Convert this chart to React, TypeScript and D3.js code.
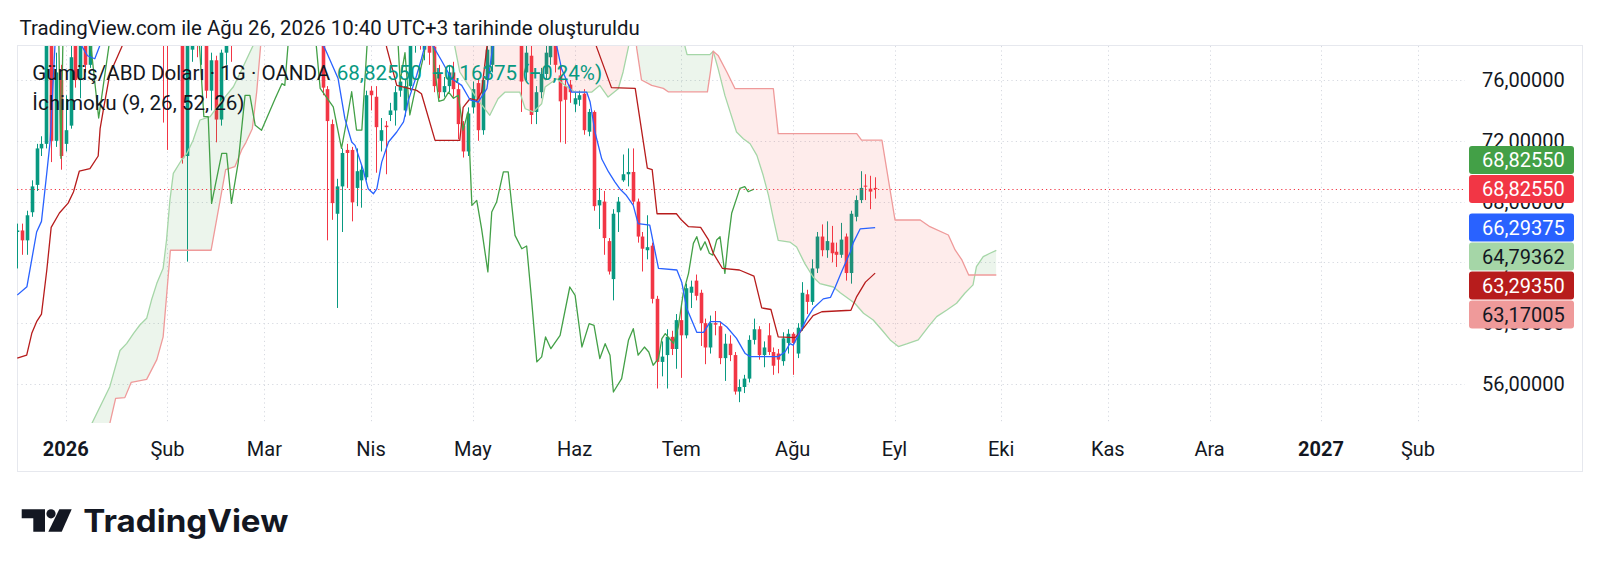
import React, { useRef, useEffect } from "react";
import * as d3 from "d3";

// bar 0 = 2 Jan 2026 (first session of the year), negative bars = late Dec 2025
// [bar, open, high, low, close]
const candles: number[][] = [
    [-10, 66.0, 66.55, 63.6, 66.1], [-9, 66.1, 66.55, 64.5, 65.45], [-8, 65.45, 67.4, 64.5, 67.1],
    [-7, 67.3, 69.4, 67.0, 69.0], [-6, 69.1, 71.8, 68.7, 71.5], [-5, 71.5, 72.3, 71.0, 71.8],
    [-4, 71.8, 80.5, 71.5, 79.0], [-3, 79.0, 80.0, 70.6, 72.0], [-2, 72.0, 77.8, 71.6, 76.5],
    [-1, 76.0, 77.0, 70.1, 71.0], [0, 71.8, 75.0, 71.3, 72.7], [1, 73.0, 79.0, 72.8, 77.5],
    [2, 79.5, 80.5, 75.5, 76.0], [3, 76.0, 80.5, 74.8, 79.8], [4, 79.8, 80.5, 76.5, 77.0],
    [5, 77.0, 81.5, 76.8, 80.5],
    [20, 80.5, 82.0, 73.2, 79.5], [21, 80.0, 81.0, 71.4, 79.0],
    [24, 80.0, 81.0, 70.5, 70.85], [25, 71.0, 81.0, 64.05, 79.5], [26, 78.0, 81.0, 77.2, 80.0],
    [27, 80.0, 81.0, 77.5, 79.0], [28, 79.0, 80.5, 77.0, 79.5], [29, 79.5, 80.0, 74.8, 75.3],
    [30, 75.3, 77.8, 74.0, 77.3], [31, 77.3, 77.6, 71.9, 73.4], [32, 73.4, 78.0, 73.0, 77.8],
    [33, 77.8, 80.0, 77.0, 79.5], [34, 79.5, 80.5, 77.2, 78.8],
    [53, 79.5, 80.5, 75.0, 75.5], [54, 75.4, 75.6, 65.45, 73.3], [55, 73.1, 73.4, 66.8, 67.9],
    [56, 67.2, 69.5, 61.0, 69.0], [57, 69.0, 71.5, 66.0, 71.2], [58, 71.4, 71.8, 68.9, 71.2],
    [59, 71.4, 71.6, 66.7, 67.95], [60, 68.9, 71.5, 67.7, 70.0], [61, 69.4, 70.4, 67.6, 70.1],
    [62, 69.6, 75.3, 69.4, 75.0], [63, 75.3, 75.6, 74.0, 75.0], [64, 74.9, 75.6, 69.9, 72.9],
    [65, 72.0, 73.5, 71.3, 72.7], [66, 73.0, 73.3, 69.8, 72.9], [67, 73.7, 74.5, 73.3, 74.0],
    [68, 74.0, 75.6, 73.0, 75.2], [69, 75.3, 76.3, 74.9, 75.9], [70, 74.0, 76.0, 73.6, 75.6],
    [71, 75.6, 79.0, 75.3, 78.5], [72, 78.3, 80.5, 77.8, 79.5], [73, 79.5, 80.5, 78.0, 78.8],
    [74, 78.0, 80.0, 77.3, 79.5], [75, 79.3, 80.0, 77.0, 77.8], [76, 78.2, 78.6, 75.2, 75.6],
    [77, 76.4, 77.0, 74.8, 75.2], [78, 75.2, 76.2, 74.9, 75.6], [79, 75.6, 77.0, 75.2, 76.5],
    [80, 76.5, 77.2, 74.9, 75.4], [81, 75.4, 75.8, 72.1, 73.1], [82, 73.0, 73.3, 70.9, 71.3],
    [83, 71.3, 74.2, 71.0, 73.8], [84, 74.2, 75.9, 73.8, 75.4], [85, 75.8, 76.1, 72.0, 72.7],
    [86, 72.7, 76.4, 72.4, 76.0], [87, 76.0, 78.4, 75.6, 78.0], [88, 77.0, 80.0, 76.5, 79.5],
    [94, 80.0, 81.0, 73.9, 75.9], [95, 76.5, 79.5, 76.0, 77.8], [96, 77.6, 78.5, 73.1, 73.7],
    [97, 73.9, 75.6, 73.1, 75.2], [98, 75.2, 76.8, 74.8, 76.4], [99, 76.4, 78.5, 76.0, 77.8],
    [100, 77.5, 80.0, 77.0, 79.0], [101, 79.0, 80.0, 76.5, 77.0], [102, 76.3, 77.0, 71.9, 74.6],
    [103, 75.6, 76.0, 71.8, 74.7], [104, 75.7, 76.0, 74.5, 75.2], [105, 74.4, 75.2, 73.9, 74.8],
    [106, 74.7, 75.3, 74.3, 75.0], [107, 75.1, 75.4, 72.4, 72.7], [108, 72.6, 74.1, 72.3, 73.9],
    [109, 73.9, 74.0, 67.4, 67.7], [110, 67.75, 68.9, 66.2, 68.1], [111, 68.0, 68.7, 64.5, 65.6],
    [112, 65.4, 65.6, 63.2, 63.4], [113, 62.9, 67.5, 61.5, 67.2], [114, 67.3, 68.3, 66.0, 68.0],
    [115, 69.4, 71.1, 69.3, 69.8], [116, 69.8, 71.5, 69.0, 69.95], [117, 69.95, 71.5, 67.8, 68.0],
    [118, 68.0, 68.2, 65.3, 65.7], [119, 65.7, 66.0, 63.4, 64.9], [120, 64.8, 67.1, 64.2, 65.0],
    [121, 65.1, 65.3, 61.3, 61.6], [122, 61.6, 61.8, 55.7, 57.45], [123, 57.45, 58.8, 56.5, 57.8],
    [124, 57.9, 59.6, 55.7, 59.1], [125, 59.1, 59.5, 57.9, 58.3], [126, 58.3, 60.6, 57.0, 60.2],
    [127, 60.2, 61.2, 56.4, 59.2], [128, 59.2, 62.6, 59.0, 62.3], [129, 62.0, 62.8, 61.0, 62.4],
    [130, 62.8, 63.2, 61.5, 61.8], [131, 62.0, 62.2, 58.5, 60.0], [132, 60.0, 60.3, 57.3, 58.4],
    [133, 58.4, 60.5, 58.0, 60.0], [134, 60.0, 60.8, 59.2, 59.9], [135, 59.8, 60.1, 57.3, 57.7],
    [136, 57.7, 59.3, 56.2, 58.65], [137, 58.65, 59.2, 57.5, 57.9], [138, 57.9, 58.1, 55.3, 55.5],
    [139, 55.5, 56.3, 54.8, 55.8], [140, 55.8, 56.6, 55.4, 56.35], [141, 56.35, 59.2, 56.1, 58.9],
    [142, 58.9, 60.3, 58.6, 59.6], [143, 59.6, 59.8, 57.6, 57.9], [144, 57.9, 58.8, 57.1, 58.4],
    [145, 59.2, 60.0, 57.9, 58.1], [146, 58.1, 58.4, 56.6, 57.2], [147, 58.0, 58.3, 56.7, 57.6],
    [148, 57.5, 59.4, 57.2, 59.0], [149, 58.7, 59.6, 58.0, 59.3], [150, 59.3, 59.4, 56.6, 58.7],
    [151, 58.0, 60.0, 57.7, 59.7], [152, 59.7, 62.7, 59.5, 62.0], [153, 61.9, 62.2, 60.6, 61.4],
    [154, 61.4, 64.2, 61.2, 63.6], [155, 63.6, 66.0, 63.3, 65.7], [156, 65.7, 66.5, 64.4, 64.8],
    [157, 64.8, 66.7, 64.3, 65.4], [158, 65.3, 66.4, 64.0, 64.6], [159, 64.7, 65.3, 63.7, 64.5],
    [160, 64.5, 66.6, 64.3, 65.5], [161, 65.7, 65.9, 62.8, 63.3], [162, 63.3, 67.4, 62.6, 67.2],
    [163, 67.0, 68.4, 66.7, 68.1], [164, 68.1, 70.0, 67.9, 68.9], [165, 69.05, 69.8, 68.1, 69.0],
    [166, 68.85, 69.7, 67.5, 68.66], [167, 68.9, 69.6, 68.2, 68.8255],
];

// Ichimoku lines: [bar, value]; 80+ means above the visible range
const tenkan: number[][] = [
    [-10, 61.85], [-8, 62.4], [-7, 64.2], [-6, 66.0], [-5, 66.7], [-3.9, 69.9], [-3.2, 72.0], [-2.2, 78.4],
    [-1.8, 80], [2.6, 80], [3, 78.4], [4.5, 77.6], [6, 77.4], [7.2, 78.4], [7.6, 80], [52.6, 80],
    [53, 78.4], [53.8, 77.84], [56.2, 76.1], [57.6, 73.46], [59, 71.92], [59.7, 71.7], [61.4, 70.06],
    [62.4, 68.85], [63.5, 68.52], [64.2, 68.85], [65.2, 70.6], [66.6, 71.92], [68.3, 72.58], [69.7, 73.24],
    [70.7, 74.66], [72.4, 76.3], [73.4, 77.4], [74.2, 78.4], [74.6, 80], [75.1, 80], [75.5, 78.4],
    [77.5, 77.3], [79.6, 76.1], [81.7, 75.65], [83.4, 74.7], [85.1, 74.55], [86.9, 75.43], [88.2, 78.4],
    [88.6, 80], [100.8, 80], [101.2, 78.4], [102.3, 76.75], [104.4, 75.2], [107.5, 75.2], [108.2, 74.55],
    [109.2, 72.58], [110.6, 70.8], [112, 69.95], [113.3, 69.3], [114.3, 68.85], [115.7, 68.4],
    [117.1, 67.75], [118.1, 66.55], [120.5, 66.45], [121.2, 65.34], [122.3, 63.6], [126.1, 63.5],
    [127.1, 62.7], [128.1, 61.0], [130.2, 59.4], [131.6, 59.4], [133, 60.1], [135, 60.1], [136.4, 59.75],
    [138.4, 59.0], [140.2, 58.0], [141.2, 57.8], [147, 57.8], [148.4, 58.1], [149.4, 58.65], [150.1, 58.55],
    [150.8, 59.0], [152.9, 60.3], [154.3, 61.0], [156.3, 61.6], [157.8, 61.7], [158.8, 62.4], [160.1, 63.4],
    [161.9, 64.7], [162.5, 65.3], [163.9, 66.2], [167, 66.29375],
];

const kijun: number[][] = [
    [-10, 57.7], [-8.05, 57.9], [-7, 59.33], [-6, 60.1], [-5, 60.6], [-3.9, 63.5], [-3, 66.3], [-1.3, 67.25],
    [0.5, 67.9], [1.6, 68.63], [2.8, 70.0], [5, 70.17], [6.7, 71.0], [7.1, 72.8], [7.8, 74.1], [9.1, 76.4],
    [11.6, 78.2], [12.4, 80], [65.6, 80], [66.2, 78.17], [68.3, 75.65], [72.4, 75.32], [73.4, 75.1],
    [76.2, 72.03], [81.3, 72.03], [82, 74.2], [83.4, 74.77], [84.8, 74.66], [85.8, 75.2], [86.9, 78.2],
    [87.4, 80], [109, 80], [109.5, 78.2], [112.6, 75.5], [117.5, 75.45], [120, 70.2], [121, 70.1],
    [122, 67.2], [126, 67.2], [127, 66.8], [128.5, 66.35], [131, 66.3], [132.6, 65.5], [133.6, 64.6],
    [135.5, 63.6], [139, 63.5], [142, 63.1], [143.6, 61.0], [145.5, 60.9], [147, 59.1], [150.5, 59.05],
    [151.5, 59.4], [153, 60.0], [154.2, 60.5], [156, 60.75], [162, 60.85], [163.2, 61.75], [165, 62.7],
    [167, 63.2935],
];

const chikou: number[][] = [
    [-10, 80], [-1.5, 80], [-1, 70.85], [-0.5, 80], [4.6, 80], [6.8, 73.5], [9.7, 80], [27.2, 80],
    [27.7, 77.75], [28.5, 73.59], [29.4, 73.59], [30.1, 67.88], [32.2, 71.17], [33.2, 71.17], [34.2, 67.88],
    [35.6, 70.6], [37, 74.99], [38, 74.99], [39.1, 73.02], [40.4, 72.69], [43.2, 74.77], [44.6, 75.76],
    [45.2, 75.65], [46.3, 80], [51.2, 80], [52.5, 75.45], [55.2, 74.24], [56.9, 71.5], [58, 73.37],
    [59, 75.23], [60, 72.71], [61.1, 72.71], [62.5, 80], [68.3, 80], [69, 75.9], [70, 77.8], [71, 73.7],
    [72, 75.2], [73, 76.4], [74, 77.8], [74.7, 80], [75.5, 80], [76, 77.0], [77, 74.6], [78, 74.7],
    [79, 75.2], [80, 74.8], [81, 75.0], [82, 72.7], [83, 73.9], [83.8, 67.75], [84.8, 68.08], [85.8, 66.22],
    [87.1, 63.37], [87.9, 67.32], [88.9, 67.97], [90.3, 69.95], [91.3, 69.95], [92.7, 65.78], [94.1, 64.9],
    [95.1, 65.08], [96.1, 61.6], [97.2, 57.45], [98.2, 57.78], [99, 59.09], [100.1, 58.32], [102, 59.2],
    [104, 62.38], [105.1, 61.83], [106.5, 58.43], [108, 59.97], [109, 59.86], [110.2, 57.67], [111.3, 58.65],
    [112.3, 57.89], [113, 55.47], [114.7, 56.35], [116.1, 58.87], [117.1, 59.64], [118.1, 57.89],
    [119.4, 58.43], [120.3, 58.1], [121.2, 57.23], [122.3, 57.67], [123, 58.98], [123.7, 59.31],
    [125.4, 58.67], [126.4, 59.77], [127.4, 61.96], [128.5, 63.28], [129.5, 65.25], [130.2, 65.69],
    [131, 64.81], [131.9, 65.36], [132.8, 64.6], [133.5, 64.48], [134.3, 65.47], [135, 65.69], [136, 63.28],
    [136.7, 65.47], [137.4, 67.23], [138.3, 68.1], [139.1, 68.87], [140.1, 68.98], [140.8, 68.65],
    [142, 68.8255],
];

const spanA: number[][] = [
    [5.4, 53.4], [9.1, 55.82], [11.2, 58.2], [12.6, 58.67], [14, 59.33], [15.3, 59.88], [16.7, 60.32],
    [17.7, 61.52], [18.8, 62.62], [20.1, 63.61], [20.8, 65.47], [21.5, 68.1], [22.2, 69.86], [23.9, 70.74],
    [25, 71.17], [26.3, 72.05], [27.7, 73.37], [29.8, 73.59], [31.8, 74.46], [34.6, 75.56], [36.6, 76.88],
    [38.7, 78.3], [40, 80], [79.5, 80], [80.3, 78.17], [81.3, 76.53], [83.1, 75.65], [85.1, 74.66],
    [87.5, 73.68], [89.2, 74.77], [90.6, 75.2], [93.7, 75.2], [94.8, 74.11], [96.5, 73.9], [98.2, 74.44],
    [98.9, 75.54], [101.3, 76.09], [103, 75.65], [105.1, 75.2], [108.5, 75.2], [110.2, 75.65],
    [111.9, 74.88], [114, 75.43], [115, 76.53], [116.1, 78.17], [117, 80.5], [126.5, 80.5], [127.8, 78.17],
    [128.2, 77.67], [132.9, 77.67], [133.6, 77.89], [134.6, 76.75], [136, 74.99], [137.1, 73.89],
    [138.4, 72.58], [139.8, 72.14], [141.2, 71.81], [142.6, 71.04], [143.9, 69.73], [145, 68.41],
    [146, 66.88], [147, 65.45], [149.4, 65.34], [150.8, 65.01], [152.5, 63.92], [154.2, 63.04],
    [155.6, 62.6], [158.4, 62.38], [159.8, 62.0], [162.8, 61.31], [164.6, 60.65], [166.6, 60.21],
    [168.4, 59.55], [170.1, 58.9], [171.8, 58.46], [173.5, 58.63], [175.9, 58.9], [178, 59.77],
    [179.7, 60.43], [181.8, 60.87], [183.8, 61.31], [185.5, 61.97], [187.2, 62.52], [187.9, 63.72],
    [189.3, 64.38], [190.7, 64.6], [192, 64.79362],
];

const spanB: number[][] = [
    [9.1, 53.4], [10.3, 55.05], [12.2, 55.1], [13.5, 56.1], [16.7, 56.3], [18.8, 57.6], [20.1, 59.1],
    [21.6, 64.8], [30, 64.8], [33, 70.1], [34.9, 70.3], [36.3, 71.4], [37.2, 71.9], [38.5, 72.8],
    [39.4, 75.2], [40.2, 78.2], [41, 81], [117, 81], [117.8, 78.1], [118.8, 76.0], [120.9, 75.65],
    [123.3, 75.45], [124.3, 75.23], [132.4, 75.22], [133, 76.5], [133.6, 77.9], [134.6, 77.62],
    [136.4, 76.53], [138.1, 75.43], [146, 75.43], [147, 72.47], [163.2, 72.47], [164.2, 72.05],
    [168.4, 72.05], [171.1, 66.79], [176.3, 66.79], [178.3, 66.35], [182.1, 65.8], [183.5, 64.82],
    [184.9, 64.16], [186.3, 63.17], [192, 63.17005],
];

const priceTicks = [56, 60, 64, 68, 72, 76];
const monthNames = ["Oca", "Şub", "Mar", "Nis", "May", "Haz", "Tem", "Ağu", "Eyl", "Eki", "Kas", "Ara"];
const holidays = ["2025-12-25", "2026-01-01", "2026-04-03", "2027-01-01"];

const lastPrice = 68.8255;
const priceTags = [
    { value: 68.8255, fill: "#43a047", color: "#ffffff" },
    { value: 68.8255, fill: "#f23645", color: "#ffffff" },
    { value: 66.29375, fill: "#2962ff", color: "#ffffff" },
    { value: 64.79362, fill: "#a5d6a7", color: "#131722" },
    { value: 63.2935, fill: "#b71c1c", color: "#ffffff" },
    { value: 63.17005, fill: "#ef9a9a", color: "#131722" },
];

const W = 1600;
const H = 573;
const FONT = "Roboto, 'Noto Sans', sans-serif";
const TEXT = "#131722";
const UP = "#089981";
const DOWN = "#f23645";

const interp = (pts: number[][], b: number) => {
    if (b <= pts[0][0]) return pts[0][1];
    for (let k = 1; k < pts.length; k++) {
        if (b <= pts[k][0]) {
            const [b0, v0] = pts[k - 1];
            const [b1, v1] = pts[k];
            return v0 + ((v1 - v0) * (b - b0)) / (b1 - b0);
        }
    }
    return pts[pts.length - 1][1];
};

// first session of every month, as bar numbers (bar 0 = 2 Jan 2026)
const monthStarts = () => {
    const days: Date[] = [];
    const d = new Date(Date.UTC(2025, 11, 1));
    while (d < new Date(Date.UTC(2027, 2, 1))) {
        const wd = d.getUTCDay();
        if (wd !== 0 && wd !== 6 && !holidays.includes(d.toISOString().slice(0, 10))) days.push(new Date(d));
        d.setUTCDate(d.getUTCDate() + 1);
    }
    const zero = days.findIndex(t => t.toISOString().startsWith("2026-01-02"));
    const out: { bar: number; label: string; bold: boolean }[] = [];
    days.forEach((t, k) => {
        if (k > 0 && t.getUTCMonth() !== days[k - 1].getUTCMonth()) {
            const m = t.getUTCMonth();
            out.push({
                bar: k - zero,
                label: m === 0 ? String(t.getUTCFullYear()) : monthNames[m],
                bold: m === 0,
            });
        }
    });
    return out;
};

const fmt = d3.formatLocale({ decimal: ",", thousands: ".", grouping: [3], currency: ["", ""] }).format(".5f");

const IchimokuChart: React.FC = () => {
    const svgRef = useRef<SVGSVGElement | null>(null);

    useEffect(() => {
        if (!svgRef.current) return;
        const svg = d3.select(svgRef.current);
        svg.selectAll("*").remove();

        const plot = { left: 17, right: 1465, top: 46, bottom: 423 };
        const x = d3.scaleLinear().domain([-10.05, 288.7]).range([plot.left, plot.right]);
        const y = d3.scaleLinear().domain([53.43, 78.24]).range([plot.bottom, plot.top]);

        svg.append("rect").attr("width", W).attr("height", H).attr("fill", "#ffffff");

        // -----------------------------
        // Frame + header
        // -----------------------------
        svg.append("rect")
            .attr("x", 17.5).attr("y", 45.5).attr("width", 1565).attr("height", 426)
            .attr("fill", "none").attr("stroke", "#e6e8ee");

        svg.append("text")
            .attr("x", 19.5).attr("y", 35)
            .attr("font-family", FONT).attr("font-size", 20.4).attr("fill", TEXT)
            .text("TradingView.com ile Ağu 26, 2026 10:40 UTC+3 tarihinde oluşturuldu");

        // -----------------------------
        // Grid
        // -----------------------------
        const months = monthStarts().filter(m => x(m.bar) > plot.left + 5 && x(m.bar) < plot.right);
        const grid = svg.append("g")
            .attr("stroke", "#d6d9e0").attr("stroke-width", 1).attr("stroke-dasharray", "1.2 3.2");
        priceTicks.forEach(p => {
            grid.append("line")
                .attr("x1", plot.left).attr("x2", plot.right)
                .attr("y1", Math.round(y(p)) + 0.5).attr("y2", Math.round(y(p)) + 0.5);
        });
        months.forEach(m => {
            grid.append("line")
                .attr("x1", Math.round(x(m.bar)) + 0.5).attr("x2", Math.round(x(m.bar)) + 0.5)
                .attr("y1", plot.top).attr("y2", plot.bottom);
        });

        // -----------------------------
        // Plot area (clipped)
        // -----------------------------
        const defs = svg.append("defs");
        defs.append("clipPath").attr("id", "plotClip")
            .append("rect")
            .attr("x", plot.left).attr("y", plot.top)
            .attr("width", plot.right - plot.left).attr("height", plot.bottom - plot.top);

        const bars = Array.from(new Set([-10.05, ...spanA.map(p => p[0]), ...spanB.map(p => p[0])]))
            .sort((a, b) => a - b);

        defs.append("clipPath").attr("id", "aboveB")
            .append("path")
            .attr("d", d3.area<number>()
                .x(b => x(b)).y0(b => y(interp(spanB, b))).y1(plot.top - 60)(bars) as string);
        defs.append("clipPath").attr("id", "belowB")
            .append("path")
            .attr("d", d3.area<number>()
                .x(b => x(b)).y0(b => y(interp(spanB, b))).y1(plot.bottom + 60)(bars) as string);

        const g = svg.append("g").attr("clip-path", "url(#plotClip)");

        // candles
        const bodyW = 3.6;
        const c = g.append("g");
        candles.forEach(([b, o, h, l, cl]) => {
            const col = cl >= o ? UP : DOWN;
            const cx = Math.round(x(b)) + 0.5;
            c.append("line")
                .attr("x1", cx).attr("x2", cx)
                .attr("y1", y(h)).attr("y2", y(l))
                .attr("stroke", col).attr("stroke-width", 1);
            const top = y(Math.max(o, cl));
            c.append("rect")
                .attr("x", cx - bodyW / 2).attr("width", bodyW)
                .attr("y", top).attr("height", Math.max(1, y(Math.min(o, cl)) - top))
                .attr("fill", col);
        });

        // cloud
        const cloud = d3.area<number>()
            .x(b => x(b))
            .y0(b => y(interp(spanB, b)))
            .y1(b => y(interp(spanA, b)));
        g.append("g").attr("clip-path", "url(#aboveB)")
            .append("path").attr("d", cloud(bars) as string)
            .attr("fill", "rgba(67, 160, 71, 0.1)");
        g.append("g").attr("clip-path", "url(#belowB)")
            .append("path").attr("d", cloud(bars) as string)
            .attr("fill", "rgba(244, 67, 54, 0.1)");

        const line = d3.line<number[]>().x(p => x(p[0])).y(p => y(p[1]));
        const series: [number[][], string][] = [
            [spanA, "#a5d6a7"],
            [spanB, "#ef9a9a"],
            [chikou, "#43a047"],
            [kijun, "#b71c1c"],
            [tenkan, "#2962ff"],
        ];
        series.forEach(([pts, col]) => {
            g.append("path")
                .attr("d", line(pts) as string)
                .attr("fill", "none").attr("stroke", col)
                .attr("stroke-width", 1.3).attr("stroke-linejoin", "round");
        });

        // last price line
        svg.append("line")
            .attr("x1", plot.left).attr("x2", plot.right)
            .attr("y1", Math.round(y(lastPrice)) + 0.5).attr("y2", Math.round(y(lastPrice)) + 0.5)
            .attr("stroke", DOWN).attr("stroke-width", 1).attr("stroke-dasharray", "1.2 3");

        // -----------------------------
        // Legend
        // -----------------------------
        const legend = svg.append("g").attr("font-family", FONT).attr("font-size", 20.6);
        legend.append("text").attr("x", 32.3).attr("y", 79.5).attr("fill", TEXT)
            .text("Gümüş/ABD Doları · 1G · OANDA");
        legend.append("text").attr("x", 336.7).attr("y", 79.5).attr("fill", UP)
            .text(fmt(lastPrice));
        legend.append("text").attr("x", 432).attr("y", 79.5).attr("fill", UP)
            .text("+0,16375 (+0,24%)");
        legend.append("text").attr("x", 32.3).attr("y", 110).attr("fill", TEXT)
            .text("İchimoku (9, 26, 52, 26)");

        // -----------------------------
        // Price scale
        // -----------------------------
        const axis = svg.append("g").attr("font-family", FONT).attr("font-size", 20).attr("fill", TEXT);
        priceTicks.forEach(p => {
            axis.append("text")
                .attr("x", 1482).attr("y", y(p)).attr("dy", "0.36em")
                .text(fmt(p));
        });

        const tagH = 28;
        const anchor = 1;
        const tops: number[] = priceTags.map(t => y(t.value) - tagH / 2);
        for (let k = anchor - 1; k >= 0; k--) tops[k] = Math.min(tops[k], tops[k + 1] - tagH - 1);
        for (let k = anchor + 1; k < priceTags.length; k++) tops[k] = Math.max(tops[k], tops[k - 1] + tagH + 1);
        priceTags.forEach((t, k) => {
            axis.append("rect")
                .attr("x", 1469).attr("y", tops[k]).attr("width", 105).attr("height", tagH)
                .attr("rx", 3).attr("fill", t.fill);
            axis.append("text")
                .attr("x", 1482).attr("y", tops[k] + tagH / 2).attr("dy", "0.36em")
                .attr("fill", t.color)
                .text(fmt(t.value));
        });

        // -----------------------------
        // Time scale
        // -----------------------------
        months.forEach(m => {
            axis.append("text")
                .attr("x", x(m.bar)).attr("y", 456)
                .attr("text-anchor", "middle")
                .attr("font-weight", m.bold ? 700 : 400)
                .text(m.label);
        });

        // -----------------------------
        // Logo
        // -----------------------------
        const logo = svg.append("g").attr("fill", TEXT);
        logo.append("path").attr("d", "M21.7 509.3H45V531.7H33.3V518.3H21.7Z");
        logo.append("circle").attr("cx", 51).attr("cy", 513.8).attr("r", 4.6);
        logo.append("path").attr("d", "M59.3 509.3H71.7L61.7 531.7H48.3Z");
        logo.append("text")
            .attr("x", 83.3).attr("y", 531.7)
            .attr("font-family", "Inter, Roboto, sans-serif").attr("font-weight", 700)
            .attr("font-size", 31).attr("textLength", 205).attr("lengthAdjust", "spacingAndGlyphs")
            .text("TradingView");
    }, []);

    return (
        <svg
            ref={svgRef}
            width={W}
            height={H}
            style={{ position: "absolute", left: 0, top: 0, background: "#ffffff" }}
        />
    );
};

export default function App() {
    return <IchimokuChart />;
}
